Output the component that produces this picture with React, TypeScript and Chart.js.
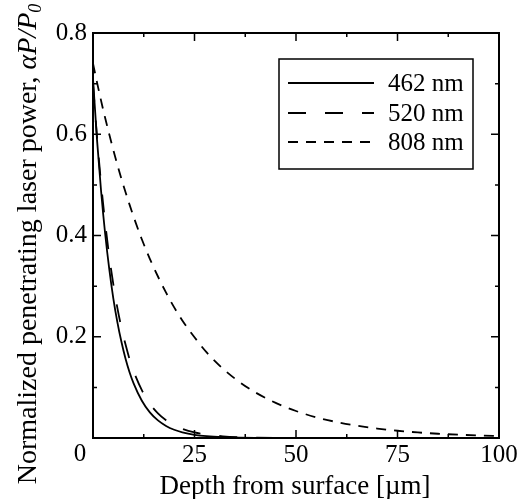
import React, { useEffect, useRef } from 'react';
import { Chart, registerables } from 'chart.js';
Chart.register(...registerables);

const depth = [0,1,2,3,4,5,6,7,8,9,10,12,14,16,18,20,22,25,28,32,36,40,45,50,55,60,65,70,75,80,85,90,95,100];
const p462 = [0.710,0.588,0.487,0.403,0.334,0.276,0.229,0.190,0.157,0.130,0.108,0.074,0.0505,0.0347,0.0238,0.0163,0.0112,0.0063,0.0036,0.0017,0.0008,0.0004,0.0002,0.0001,0,0,0,0,0,0,0,0,0,0];
const p520 = [0.700,0.593,0.502,0.425,0.359,0.304,0.257,0.218,0.185,0.156,0.132,0.095,0.068,0.0486,0.0349,0.0250,0.0179,0.0109,0.0066,0.0034,0.0017,0.0009,0.0004,0.0002,0.0001,0,0,0,0,0,0,0,0,0];
const p808 = [0.740,0.702,0.666,0.632,0.600,0.569,0.540,0.512,0.486,0.461,0.437,0.393,0.354,0.319,0.287,0.258,0.232,0.199,0.169,0.137,0.111,0.090,0.0693,0.0533,0.0409,0.0315,0.0242,0.0186,0.0143,0.0110,0.0084,0.0065,0.0050,0.0038];

const seriesLabels = ['462 nm', '520 nm', '808 nm'];
const xMajor = [0, 25, 50, 75, 100];
const xMinor = [12.5, 37.5, 62.5, 87.5];
const yMajor = [0, 0.2, 0.4, 0.6, 0.8];
const yMinor = [0.1, 0.3, 0.5, 0.7];
const xTitle = 'Depth from surface [\u00b5m]';
const yTitleMain = 'Normalized penetrating laser power, ';
const yTitleItalic = '\u03b1P/P';
const yTitleSub = '0';
const originLabel = '0';

const FONT = '"Liberation Serif", "Times New Roman", serif';
const dashes = [[], [18, 19], [10, 8]];

const framePlugin = {
  id: 'framePlugin',
  afterDraw(chart: any) {
    const ctx = chart.ctx;
    const { left, right, top, bottom } = chart.chartArea;
    const xs = chart.scales.x;
    const ys = chart.scales.y;
    ctx.save();
    ctx.strokeStyle = '#000';
    ctx.lineWidth = 2;
    ctx.strokeRect(left, top, right - left, bottom - top);
    ctx.lineWidth = 1.5;
    const drawX = (v: number, len: number) => {
      const px = xs.getPixelForValue(v);
      ctx.beginPath();
      ctx.moveTo(px, bottom); ctx.lineTo(px, bottom - len);
      ctx.moveTo(px, top); ctx.lineTo(px, top + len);
      ctx.stroke();
    };
    const drawY = (v: number, len: number) => {
      const py = ys.getPixelForValue(v);
      ctx.beginPath();
      ctx.moveTo(left, py); ctx.lineTo(left + len, py);
      ctx.moveTo(right, py); ctx.lineTo(right - len, py);
      ctx.stroke();
    };
    xMajor.forEach(v => drawX(v, 8));
    xMinor.forEach(v => drawX(v, 4));
    yMajor.forEach(v => drawY(v, 8));
    yMinor.forEach(v => drawY(v, 4));

    ctx.fillStyle = '#000';
    ctx.font = `25px ${FONT}`;
    ctx.textAlign = 'center';
    ctx.textBaseline = 'middle';
    ctx.fillText(originLabel, left - 13, bottom + 16);

    ctx.lineWidth = 1.5;
    ctx.strokeRect(279, 59, 194, 110);
    const ly = [83, 113, 142];
    seriesLabels.forEach((lab, i) => {
      ctx.save();
      ctx.lineWidth = 1.8;
      ctx.setLineDash(dashes[i]);
      ctx.beginPath();
      ctx.moveTo(288, ly[i]);
      ctx.lineTo(374, ly[i]);
      ctx.stroke();
      ctx.restore();
      ctx.font = `25px ${FONT}`;
      ctx.textAlign = 'left';
      ctx.textBaseline = 'middle';
      ctx.fillText(lab, 388, ly[i] + 1);
    });

    ctx.font = `27px ${FONT}`;
    ctx.textAlign = 'center';
    ctx.textBaseline = 'alphabetic';
    ctx.fillText(xTitle, 295, 494);

    ctx.save();
    ctx.translate(25, 244);
    ctx.rotate(-Math.PI / 2);
    const fMain = `28px ${FONT}`;
    const fIt = `italic 28px ${FONT}`;
    const fSub = `italic 18px ${FONT}`;
    ctx.font = fMain; const w1 = ctx.measureText(yTitleMain).width;
    ctx.font = fIt; const w2 = ctx.measureText(yTitleItalic).width;
    ctx.font = fSub; const w3 = ctx.measureText(yTitleSub).width;
    const total = w1 + w2 + w3;
    let x0 = -total / 2;
    ctx.textAlign = 'left';
    ctx.textBaseline = 'alphabetic';
    const base = 11;
    ctx.font = fMain; ctx.fillText(yTitleMain, x0, base); x0 += w1;
    ctx.font = fIt; ctx.fillText(yTitleItalic, x0, base); x0 += w2;
    ctx.font = fSub; ctx.fillText(yTitleSub, x0, base + 5);
    ctx.restore();

    ctx.restore();
  },
};

export default function App() {
  const ref = useRef<HTMLCanvasElement | null>(null);
  useEffect(() => {
    document.body.style.margin = '0';
    const canvas = ref.current!;
    const mk = (vals: number[]) => depth.map((d, i) => ({ x: d, y: vals[i] }));
    const chart = new Chart(canvas, {
      type: 'line',
      data: {
        datasets: [p462, p520, p808].map((vals, i) => ({
          label: seriesLabels[i],
          data: mk(vals),
          borderColor: '#000',
          borderWidth: 1.8,
          borderDash: dashes[i],
          pointRadius: 0,
          fill: false,
          cubicInterpolationMode: 'monotone' as const,
        })),
      },
      options: {
        responsive: false,
        animation: false,
        layout: { padding: { top: 33, right: 21, left: 0, bottom: 0 } },
        plugins: { legend: { display: false }, tooltip: { enabled: false } },
        scales: {
          x: {
            type: 'linear',
            min: 0,
            max: 100,
            grid: { display: false, drawTicks: false },
            border: { display: false },
            ticks: {
              stepSize: 25,
              color: '#000',
              padding: 2,
              maxRotation: 0,
              font: { family: FONT, size: 25 },
              callback: (v: any) => (v === 0 ? '' : String(v)),
            },
            afterFit: (s: any) => { s.height = 61; s.paddingLeft = 0; s.paddingRight = 0; },
          },
          y: {
            type: 'linear',
            min: 0,
            max: 0.8,
            grid: { display: false, drawTicks: false },
            border: { display: false },
            ticks: {
              stepSize: 0.2,
              color: '#000',
              padding: 6,
              font: { family: FONT, size: 25 },
              callback: (v: any) => (Math.abs(v) < 1e-9 ? '' : Number(v).toFixed(1)),
            },
            afterFit: (s: any) => { s.width = 93; s.paddingTop = 0; s.paddingBottom = 0; },
          },
        },
      },
      plugins: [framePlugin],
    } as any);
    return () => chart.destroy();
  }, []);
  return (
    <div style={{ width: 520, height: 499 }}>
      <canvas ref={ref} width={520} height={499} style={{ display: 'block' }} />
    </div>
  );
}
